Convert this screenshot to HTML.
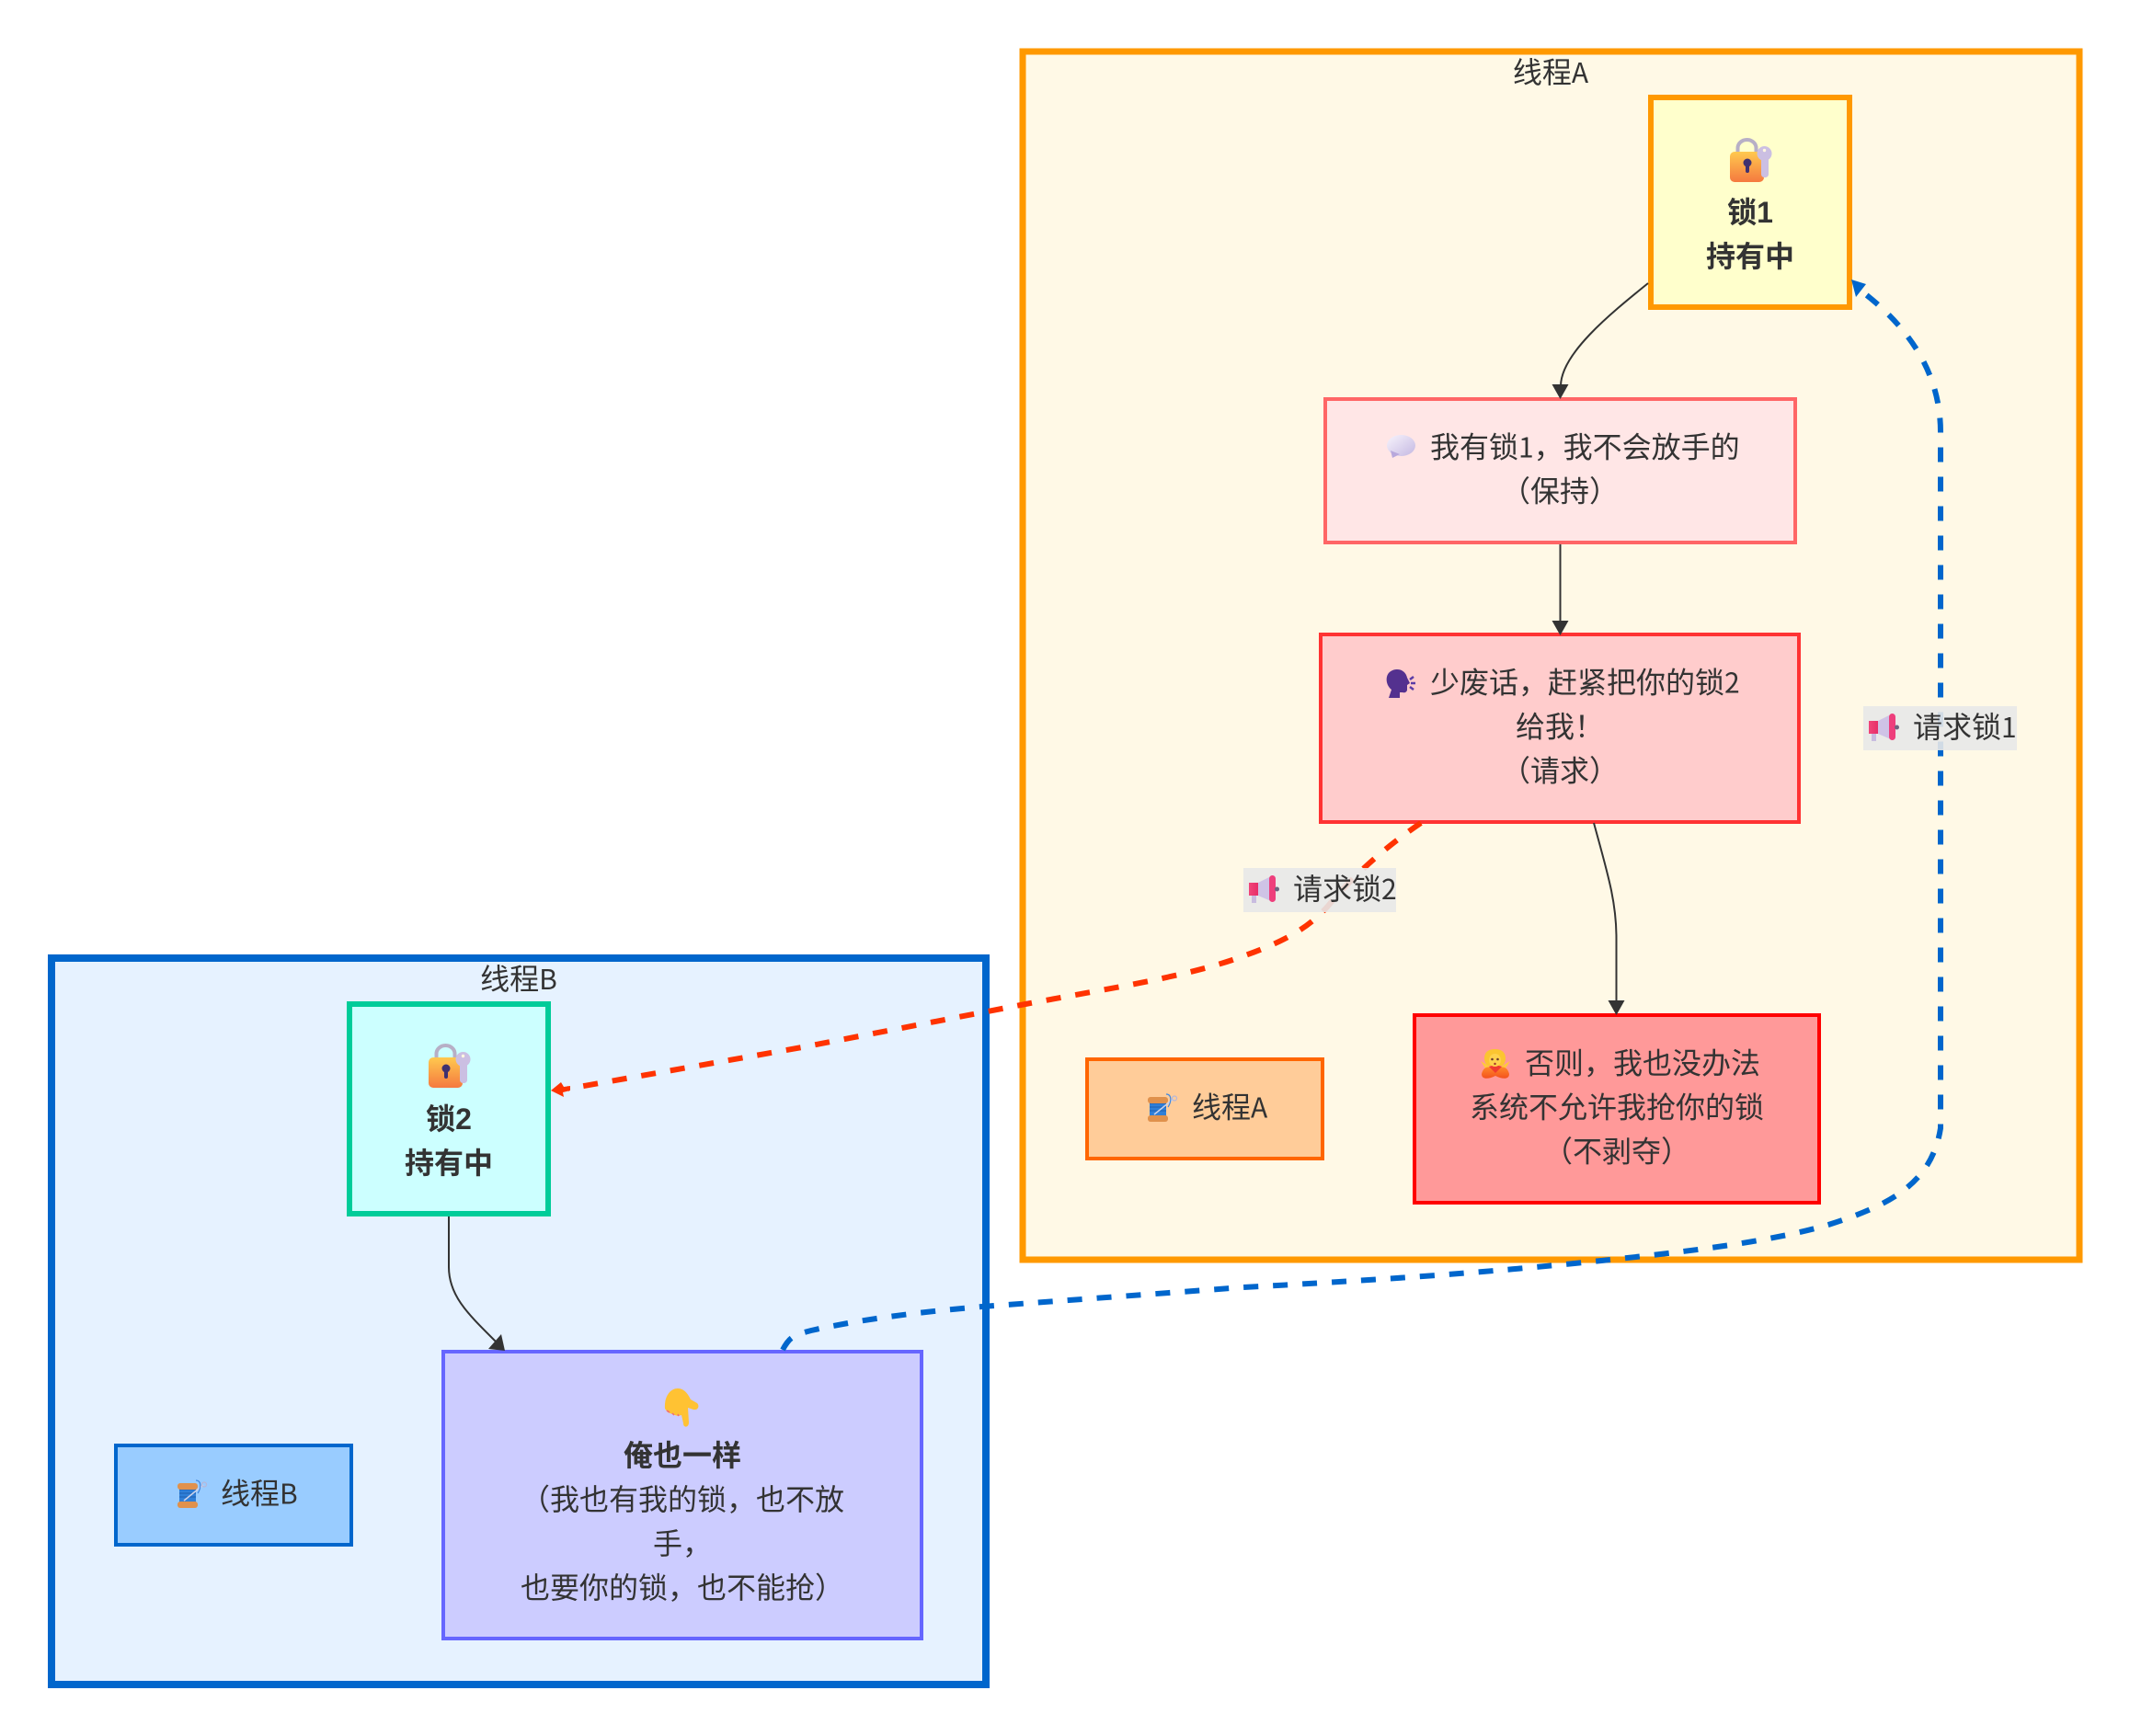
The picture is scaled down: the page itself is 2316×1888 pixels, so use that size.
<!DOCTYPE html>
<html><head><meta charset="utf-8"><style>
html,body{margin:0;padding:0;background:#fff}
svg{display:block}
text{font-family:"Liberation Sans","Noto Sans CJK SC",sans-serif;font-size:32px;fill:#333}
.c{text-anchor:middle}
.b{font-weight:700}
.l{font-family:"WenQuanYi Zen Hei","Noto Sans CJK SC",sans-serif;font-size:30px}
</style></head><body>
<svg xmlns="http://www.w3.org/2000/svg" width="2316" height="1888" viewBox="0 0 2316 1888">
<defs>
<linearGradient id="gl" x1="0" y1="0" x2="0" y2="1"><stop offset="0" stop-color="#ffc94f"/><stop offset="1" stop-color="#f5793f"/></linearGradient>
<linearGradient id="gb" x1="0" y1="0" x2="1" y2="1"><stop offset="0" stop-color="#f8f4fc"/><stop offset="1" stop-color="#c4b8e2"/></linearGradient>
<linearGradient id="gm" x1="0" y1="0" x2="1" y2="0"><stop offset="0" stop-color="#f0457a"/><stop offset="1" stop-color="#e82f68"/></linearGradient>
<linearGradient id="go" x1="0" y1="0" x2="0" y2="1"><stop offset="0" stop-color="#ff8a2a"/><stop offset="1" stop-color="#f4511e"/></linearGradient>
<g id="lock">
<path d="M8.5,16V10a10,9 0 0 1 20,0V16" fill="none" stroke="#b7afc6" stroke-width="4"/>
<rect x="0" y="14" width="37" height="33" rx="5" fill="url(#gl)"/>
<circle cx="19" cy="26" r="4.5" fill="#3f3170"/><rect x="17" y="26" width="4" height="11" rx="2" fill="#3f3170"/>
<rect x="34" y="18" width="8" height="24" rx="3.5" fill="#cbbfe2"/><circle cx="37.5" cy="16" r="8" fill="#cbbfe2"/><circle cx="37.5" cy="12.5" r="1.7" fill="#fff8e0"/>
</g>
<g id="bubble"><ellipse cx="15.500" cy="11.500" rx="15.500" ry="11.500" fill="url(#gb)"/><polygon points="4,17 6,25 14,21" fill="#b8a8dc"/></g>
<g id="head"><path d="M3,31L6,22C1,18 0,12 1,8C2,3 7,0 12,0C18,0 22,4 23,9L26,15L23,17L23,22C23,24 21,26 18,25L15,25L15,31Z" fill="#54318f"/>
<path d="M26,11l4,-3M27,15h5M26,19l4,3" stroke="#5a3ca6" stroke-width="2.500" fill="none"/></g>
<g id="woman"><path d="M0,13L10,19L7,24Z M32,13L22,19L25,24Z" fill="#ffc83d"/><path d="M1,27C3,18 10,18 16,22C22,18 29,18 31,27C31,33 24,33 16,29C8,33 1,33 1,27Z" fill="url(#go)"/>
<path d="M9,19Q16,16 23,19L16,26Z" fill="#f03a2e"/><path d="M4,10C4,2 10,0 15.500,0C22,0 27,3 27,10C27,15 24,18 23,18L8,18C6,17 4,14 4,10Z" fill="#fbc531"/><ellipse cx="15.500" cy="12" rx="6.500" ry="7" fill="#ffd04d"/><circle cx="12.500" cy="11" r="1.300" fill="#6d3b2a"/><circle cx="18.500" cy="11" r="1.300" fill="#6d3b2a"/><circle cx="15.500" cy="16" r="1.200" fill="#a3302a"/></g>
<g id="hand"><path d="M0,22C-1,10 5,0 14,0C21,0 25,6 28,12L35,16C38,19 36,24 31,23L25,21L26,37C26,43 20,43 20,38L18,29L14,30L8,28L3,26Z" fill="#ffc233"/><path d="M2,24L5,26M8,27L10,29M14,28L15,30" stroke="#f06a7a" stroke-width="1.500"/></g>
<g id="spool"><rect x="2" y="6" width="18" height="18" fill="#2f7fd8"/><path d="M2,10H20M2,14H20M2,18H20" stroke="#1f5fb0" stroke-width="1"/><rect x="0" y="3" width="22" height="7" rx="3" fill="#e0914c"/><rect x="0" y="23" width="22" height="7" rx="3" fill="#e0914c"/>
<path d="M7,22L28,5" stroke="#cdd3ea" stroke-width="1.500"/><circle cx="29" cy="4.500" r="2.500" fill="none" stroke="#b7b7d8" stroke-width="1.200"/><path d="M20,0C26,0 26,8 22,14" fill="none" stroke="#3f87e0" stroke-width="1.200"/></g>
<g id="mega"><rect x="3" y="22" width="5" height="8" fill="#c8bce0"/><polygon points="10,8 24,1 24,28 10,22" fill="#cfc3e6"/><rect x="0" y="8" width="10" height="14" fill="url(#gm)"/><rect x="22" y="0" width="7" height="29" rx="3.500" fill="#ee3f7c"/><circle cx="30.500" cy="15" r="2.500" fill="#6d6480"/></g>
</defs>

<rect x="1112" y="56" width="1149" height="1314" fill="#fff9e6" stroke="#ff9900" stroke-width="7"/>
<rect x="56" y="1042" width="1016" height="790" fill="#e6f2ff" stroke="#0066cc" stroke-width="8"/>
<text class="c" x="1686" y="90">线程<tspan class="l">A</tspan></text>
<text class="c" x="564" y="1076">线程<tspan class="l">B</tspan></text>

<!-- nodes -->
<rect x="1795" y="106" width="216" height="228" fill="#ffffcc" stroke="#ff9900" stroke-width="6"/>
<rect x="1441" y="434" width="511" height="156" fill="#ffe6e6" stroke="#ff6666" stroke-width="4"/>
<rect x="1436" y="690" width="520" height="204" fill="#ffcccc" stroke="#ff3333" stroke-width="4"/>
<rect x="1538" y="1104" width="440" height="204" fill="#ff9999" stroke="#ff0000" stroke-width="4"/>
<rect x="1182" y="1152" width="256" height="108" fill="#ffcc99" stroke="#ff6600" stroke-width="4"/>
<rect x="380" y="1092" width="216" height="228" fill="#ccffff" stroke="#00cc99" stroke-width="6"/>
<rect x="482" y="1470" width="520" height="312" fill="#ccccff" stroke="#6666ff" stroke-width="4"/>
<rect x="126" y="1572" width="256" height="108" fill="#99ccff" stroke="#0066cc" stroke-width="4"/>

<!-- edges -->
<g fill="none" stroke="#333" stroke-width="2">
<path d="M1792,308C1750,342 1697,385 1697,420"/>
<path d="M1696.500,592V676"/>
<path d="M1733,895C1748,950 1757.500,980 1757.500,1020V1090"/>
<path d="M488,1323V1378C488,1410 510,1430 540,1460"/>
</g>
<g fill="#333">
<polygon points="1696.500,434 1687.500,418 1705.500,418"/>
<polygon points="1696.500,691 1687.500,675 1705.500,675"/>
<polygon points="1757.500,1104 1748.500,1088 1766.500,1088"/>
<polygon points="549,1469 531,1467 545,1451"/>
</g>
<path d="M1545,895C1505,922 1475,950 1450,978C1425,1010 1395,1025 1340,1044C1280,1064 1200,1076 1115,1092L872,1139L618,1184" fill="none" stroke="#ff3300" stroke-width="6" stroke-dasharray="16 16"/>
<polygon points="599,1186 610,1177 613,1182 620,1181 620,1186 612,1188 613,1193" fill="#ff3300"/>
<path d="M851,1468C858,1455 862,1452 882,1447C940,1434 1000,1427 1068,1421L1352,1400C1500,1392 1600,1385 1712,1374C1820,1363 1920,1352 1988,1332C2050,1312 2100,1290 2110,1227L2110,470C2110,405 2075,355 2022,315" fill="none" stroke="#0066cc" stroke-width="6" stroke-dasharray="16 16"/>
<polygon points="2013,304 2029,309 2018,323" fill="#0066cc"/>

<!-- edge labels -->
<rect x="2026" y="768" width="167" height="48" fill="#e8e8e8" fill-opacity="0.9"/>
<rect x="1352" y="944" width="166" height="48" fill="#e8e8e8" fill-opacity="0.9"/>
<use href="#mega" x="2032" y="776"/>
<use href="#mega" x="1358" y="952"/>
<text x="2080" y="802">请求锁<tspan class="l">1</tspan></text>
<text x="1406" y="978">请求锁<tspan class="l">2</tspan></text>

<!-- node content -->
<use href="#lock" x="1881" y="151"/>
<text class="c b" x="1903" y="242">锁1</text>
<text class="c b" x="1903" y="290">持有中</text>

<use href="#bubble" x="1508" y="473"/>
<text x="1555" y="497.500">我有锁<tspan class="l">1</tspan>，我不会放手的</text>
<text class="c" x="1696" y="545.500">（保持）</text>

<use href="#head" x="1507" y="728"/>
<text x="1555" y="753.500">少废话，赶紧把你的锁<tspan class="l">2</tspan></text>
<text class="c" x="1696" y="801.500">给我！</text>
<text class="c" x="1696" y="849.500">（请求）</text>

<use href="#woman" x="1610" y="1141"/>
<text x="1658" y="1167.500">否则，我也没办法</text>
<text class="c" x="1758" y="1215.500">系统不允许我抢你的锁</text>
<text class="c" x="1758" y="1263.500">（不剥夺）</text>

<use href="#spool" x="1248" y="1190"/>
<text x="1296" y="1215.500">线程<tspan class="l">A</tspan></text>

<use href="#lock" x="466" y="1136"/>
<text class="c b" x="488" y="1228">锁2</text>
<text class="c b" x="488" y="1276">持有中</text>

<use href="#hand" x="723" y="1510"/>
<text class="c b" x="742" y="1594">俺也一样</text>
<text class="c" x="742" y="1642">（我也有我的锁，也不放</text>
<text class="c" x="742" y="1690">手，</text>
<text class="c" x="742" y="1738">也要你的锁，也不能抢）</text>

<use href="#spool" x="193" y="1610"/>
<text x="240" y="1635.500">线程<tspan class="l">B</tspan></text>
</svg>
</body></html>
